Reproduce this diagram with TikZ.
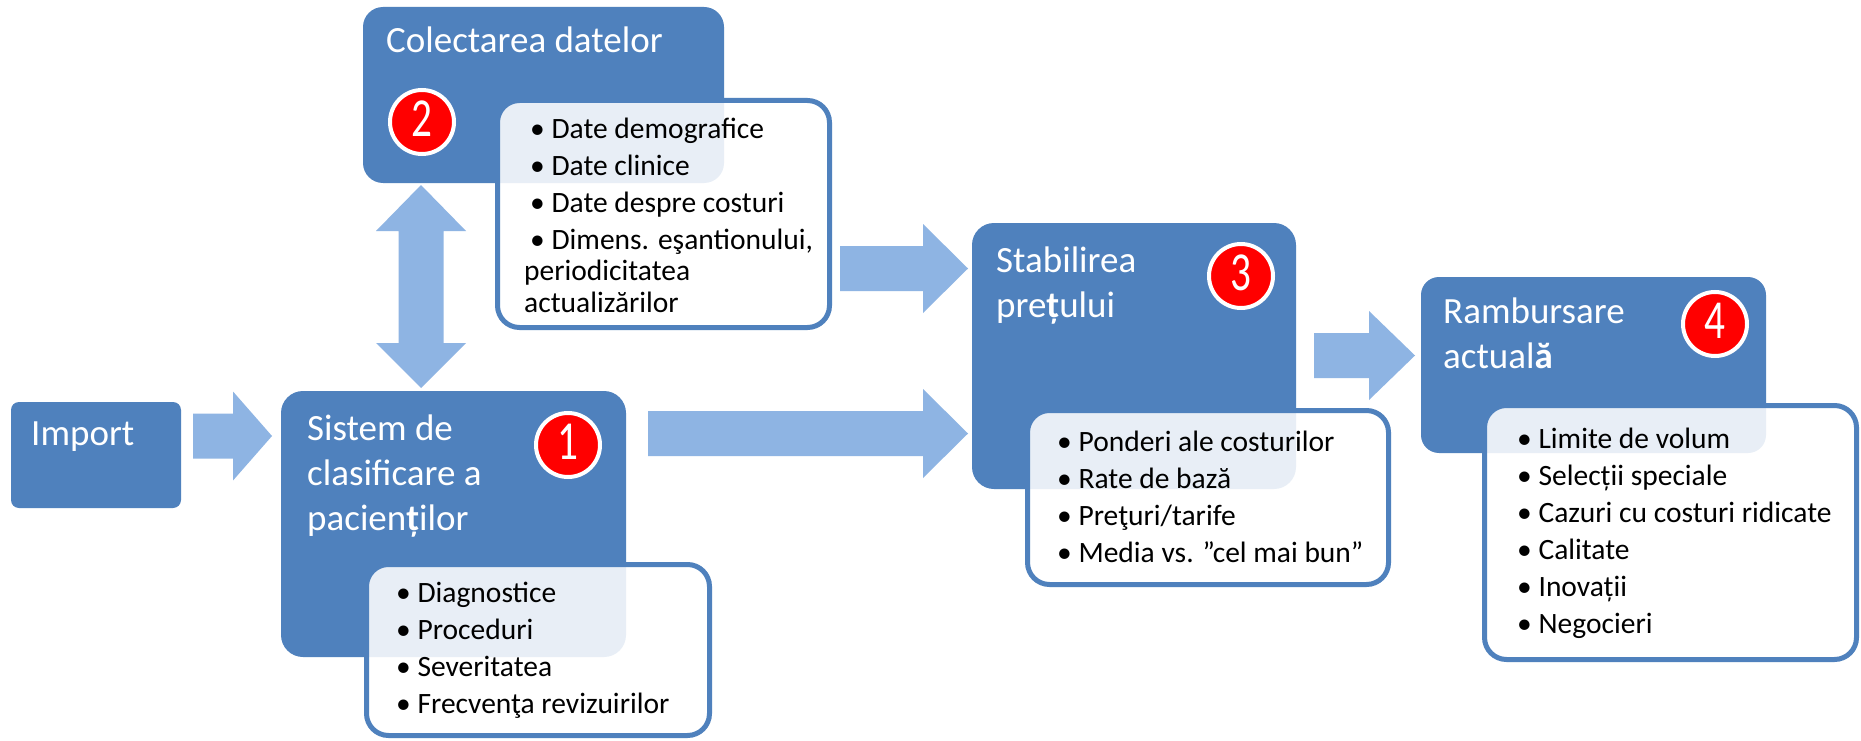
\documentclass[tikz,border=0pt]{standalone}
\usepackage{fontspec}
\setmainfont{Carlito}
\usetikzlibrary{calc}
\definecolor{boxblue}{RGB}{79,129,189}
\definecolor{arrowblue}{RGB}{142,180,227}
\definecolor{badgered}{RGB}{255,0,0}
\tikzset{
  mainbox/.style={draw=none, fill=boxblue, rounded corners=20pt, anchor=north west, inner sep=0pt, outer sep=0pt},
  subbox/.style={draw=boxblue, line width=5pt, fill=white, fill opacity=0.87, rounded corners=22pt, anchor=north west, inner sep=0pt, outer sep=0pt},
  % multi-line texts are placed by the baseline of their last line
  title/.style={text=white, font=\fontsize{37}{45}\selectfont, anchor=base west, inner sep=0pt, align=left},
  items/.style={text=black, font=\fontsize{29.5}{31.5}\selectfont, anchor=base west, inner sep=0pt, align=left},
  badge/.style={circle, fill=badgered, draw=white, line width=4pt, minimum size=64pt, inner sep=0pt,
    text=white, font=\fontsize{55}{55}\selectfont, text depth=7pt},
  arrowfill/.style={fill=arrowblue},
}
% horizontal block arrow from a start point to its tip
\newcommand\rightblock[3][45pt]{%
  \fill[arrowfill] let \p1=(#2), \p2=(#3) in
    (\x1,\y1+22.5pt) -- (\x2-#1,\y1+22.5pt) -- (\x2-#1,\y1+44.5pt) -- (\x2,\y1)
    -- (\x2-#1,\y1-44.5pt) -- (\x2-#1,\y1-22.5pt) -- (\x1,\y1-22.5pt) -- cycle;}
% vertical block arrow with heads at both ends
\newcommand\updownblock[2]{%
  \fill[arrowfill] let \p1=(#1), \p2=(#2) in
    (\x1,\y1) -- (\x1+45pt,\y1-46pt) -- (\x1+22.5pt,\y1-46pt) -- (\x1+22.5pt,\y2+45pt)
    -- (\x1+45pt,\y2+45pt) -- (\x1,\y2) -- (\x1-45pt,\y2+45pt) -- (\x1-22.5pt,\y2+45pt)
    -- (\x1-22.5pt,\y1-46pt) -- (\x1-45pt,\y1-46pt) -- cycle;}

\begin{document}
\begin{tikzpicture}[x=1pt,y=-1pt]
\useasboundingbox (0,0) rectangle (1861,741);
\fill[white] (0,0) rectangle (1861,741);

% main boxes
\node[mainbox, rounded corners=8pt, minimum width=170pt, minimum height=106pt] (imp) at (11,402) {};
\node[mainbox, rounded corners=22pt, minimum width=345pt, minimum height=266pt] (b1) at (281,391) {};
\node[mainbox, minimum width=361pt, minimum height=176pt] (b2) at (363,7) {};
\node[mainbox, rounded corners=22pt, minimum width=324pt, minimum height=266pt] (b3) at (972,223) {};
\node[mainbox, rounded corners=18pt, minimum width=345pt, minimum height=176pt] (b4) at (1421,277) {};

% connectors
\coordinate (a0s) at (193,436);   \coordinate (a0e) at (272,436);
\coordinate (a1s) at (840,268.5); \coordinate (a1e) at (968,268.5);
\coordinate (a2s) at (648,433.5); \coordinate (a2e) at (968,433.5);
\coordinate (a3s) at (1314,355.5);\coordinate (a3e) at (1415,355.5);
\coordinate (vtop) at (421,185);  \coordinate (vbot) at (421,388);
\rightblock[39pt]{a0s}{a0e}
\rightblock{a1s}{a1e}
\rightblock{a2s}{a2e}
\rightblock[46pt]{a3s}{a3e}
\updownblock{vtop}{vbot}

% titles
\node[title] (timp) at (31,445) {Import};
\node[title] (t1) at (307,530) {Sistem de\\clasificare a\\pacien\textbf{ț}ilor};
\node[title] (t2) at (386,53) {Colectarea datelor};
\node[title] (t3) at (996,317) {Stabilirea\\pre\textbf{ț}ului};
\node[title] (t4) at (1443,368) {Rambursare\\actual\textbf{ă}};

% numbered badges
\node[badge] (c1) at (568,445) {\scalebox{0.75}[1]{1}};
\node[badge] (c2) at (422,122) {\scalebox{0.75}[1]{2}};
\node[badge] (c3) at (1241,276) {\scalebox{0.75}[1]{3}};
\node[badge] (c4) at (1715,324) {\scalebox{0.75}[1]{4}};

% detail boxes
\node[subbox, minimum width=343pt, minimum height=171pt] (s1) at (366.5,564.5) {};
\node[subbox, minimum width=332pt, minimum height=227pt] (s2) at (497.5,100.5) {};
\node[subbox, minimum width=361pt, minimum height=174pt] (s3) at (1027.5,410.5) {};
\node[subbox, minimum width=372pt, minimum height=254pt] (s4) at (1484.5,405.5) {};

% detail lists
\node[items] (l1) at (396,713) {• Diagnostice\\[5.5pt]• Proceduri\\[5.5pt]• Severitatea\\[5.5pt]• Frecvenţa revizuirilor};
\node[items] (l2) at (524,312) {\hspace*{6pt}• Date demografice\\[5.5pt]\hspace*{6pt}• Date clinice\\[5.5pt]\hspace*{6pt}• Date despre costuri\\[5.5pt]\hspace*{6pt}• Dimens. eşantionului,\\periodicitatea\\actualizărilor};
\node[items] (l3) at (1057,562) {• Ponderi ale costurilor\\[5.5pt]• Rate de bază\\[5.5pt]• Preţuri/tarife\\[5.5pt]• Media vs. "cel mai bun"};
\node[items] (l4) at (1517,633) {• Limite de volum\\[5.5pt]• Selecții speciale\\[5.5pt]• Cazuri cu costuri ridicate\\[5.5pt]• Calitate\\[5.5pt]• Inovații\\[5.5pt]• Negocieri};
\end{tikzpicture}
\end{document}
